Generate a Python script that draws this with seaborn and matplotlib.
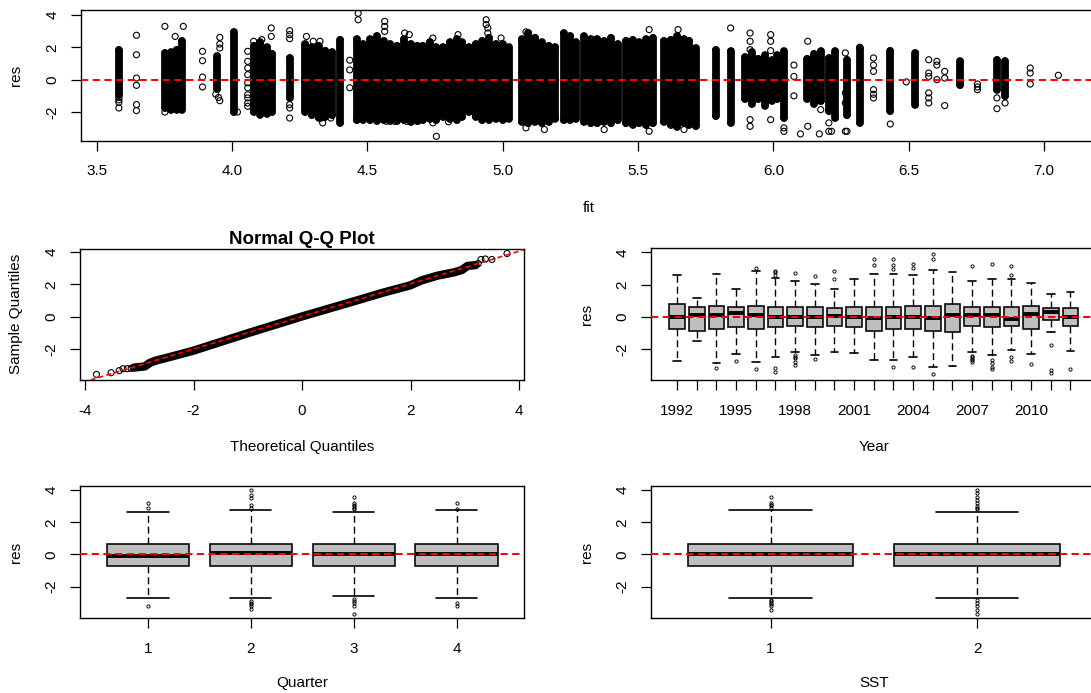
import matplotlib
matplotlib.use("Agg")
import matplotlib.pyplot as plt
import seaborn as sns
import numpy as np
import pandas as pd

# ---------------- data ----------------
# residuals vs fitted: dense columns (fit, low, high) and isolated points
col_fit = [3.582, 3.752, 3.775, 3.795, 3.815, 3.945, 4.006, 4.08, 4.105, 4.13, 4.148,
           4.213, 4.27, 4.295, 4.32, 4.345, 4.37, 4.40, 4.46, 4.485, 4.51, 4.535, 4.56,
           4.585, 4.61, 4.635, 4.66, 4.685, 4.705, 4.73, 4.755, 4.78, 4.805, 4.83, 4.85,
           4.875, 4.90, 4.925, 4.95, 4.975, 5.0, 5.022, 5.07, 5.095, 5.12, 5.145, 5.17,
           5.195, 5.225, 5.25, 5.27, 5.30, 5.325, 5.35, 5.375, 5.40, 5.425, 5.455, 5.48,
           5.505, 5.53, 5.555, 5.595, 5.62, 5.645, 5.67, 5.69, 5.713, 5.787, 5.842, 5.895,
           5.92, 5.945, 5.97, 5.995, 6.015, 6.039, 6.125, 6.15, 6.175, 6.205, 6.229, 6.272,
           6.319, 6.432, 6.525, 6.69, 6.826, 6.856]
col_lo = [-0.95, -1.75, -1.85, -1.85, -1.85, -0.6, -2.0, -2.0, -2.16, -2.1, -2.0,
          -1.13, -2.0, -2.2, -2.35, -2.3, -2.2, -2.67, -2.5, -2.5, -2.5, -2.55, -2.5,
          -2.55, -2.55, -2.5, -2.6, -2.55, -2.5, -2.4, -2.5, -2.3, -2.4, -2.5, -2.3,
          -2.0, -2.3, -2.5, -2.5, -2.4, -2.5, -2.4, -2.6, -2.7, -2.6, -2.7, -2.6,
          -2.4, -2.5, -2.5, -2.4, -2.6, -2.7, -2.7, -2.6, -2.7, -2.5, -2.7, -2.78,
          -2.7, -2.8, -2.7, -2.6, -2.8, -2.9, -2.7, -2.8, -2.88, -2.26, -2.67, -1.2,
          -1.5, -1.2, -1.6, -1.3, -1.2, -2.37, -1.2, -1.5, -1.34, -1.95, -2.37, -2.2,
          -2.67, -1.95, -1.54, -0.35, -0.62, -1.03]
col_hi = [1.85, 1.65, 1.70, 1.85, 2.40, 1.45, 2.94, 2.1, 2.3, 2.0, 1.6,
          1.34, 2.2, 2.0, 2.1, 1.8, 1.7, 2.47, 2.5, 2.2, 2.5, 2.7, 2.4,
          2.2, 2.1, 2.5, 2.2, 2.1, 2.1, 2.3, 2.0, 2.0, 2.3, 2.5, 2.3,
          2.0, 2.2, 2.4, 2.6, 2.2, 2.2, 2.0, 2.5, 2.9, 2.6, 2.3, 2.1,
          2.0, 2.88, 2.7, 2.3, 2.67, 2.5, 2.5, 2.4, 2.6, 2.2, 2.4, 2.47,
          2.3, 2.5, 2.6, 2.4, 2.47, 2.7, 2.5, 2.4, 1.95, 1.85, 1.75, 1.4,
          1.7, 1.3, 1.5, 1.2, 1.5, 1.75, 1.3, 1.6, 1.75, 1.34, 1.75, 1.23,
          1.95, 1.79, 1.65, 1.13, 1.23, 1.13]

pt_fit = [3.647, 3.647, 3.647, 3.647, 3.647, 3.647, 3.582, 3.582, 3.582, 3.582,
          3.752, 3.752, 3.82, 3.79, 3.891, 3.891, 3.891, 3.891, 3.955, 3.955, 3.955,
          3.94, 3.95, 3.955, 4.02, 4.058, 4.058, 4.058, 4.058, 4.058, 4.058, 4.058,
          4.058, 4.058, 4.058, 4.145, 4.145, 4.11, 4.08, 4.213, 4.213, 4.213, 4.213,
          4.213, 4.213, 4.275, 4.30, 4.325, 4.33, 4.365, 4.335, 4.435, 4.435, 4.435,
          4.466, 4.466, 4.564, 4.564, 4.564, 4.638, 4.655, 4.533, 4.57, 4.60, 4.645,
          4.687, 4.742, 4.835, 4.742, 4.755, 4.80, 4.939, 4.939, 4.945, 4.945, 4.994,
          5.086, 5.086, 5.154, 5.375, 5.541, 5.541, 5.648, 5.67, 5.842, 5.914, 5.914,
          5.914, 5.914, 5.914, 5.99, 5.99, 5.99, 5.99, 6.039, 6.039, 6.076, 6.076,
          6.076, 6.1, 6.127, 6.127, 6.17, 6.175, 6.205, 6.205, 6.215, 6.272, 6.266,
          6.266, 6.266, 6.266, 6.319, 6.37, 6.37, 6.37, 6.37, 6.37, 6.37, 6.432,
          6.491, 6.574, 6.574, 6.574, 6.574, 6.574, 6.574, 6.604, 6.604, 6.604, 6.633,
          6.633, 6.633, 6.754, 6.754, 6.754, 6.826, 6.826, 6.856, 6.949, 6.949, 6.949,
          7.053]
pt_res = [2.74, 1.54, 0.1, -0.35, -1.54, -1.91, -1.1, -1.25, -1.4, -1.75,
          3.29, -2.0, 3.29, 2.67, 1.75, 1.17, 0.16, -0.45, 2.61, 2.2, 1.95,
          -0.9, -1.1, -1.3, -2.0, 1.75, 1.13, 0.72, 0.31, -0.2, -0.51, -0.93,
          -1.13, -1.44, -1.65, 3.19, 2.67, 2.47, 2.37, 3.02, 2.78, 2.53, -1.54,
          -1.75, -2.37, 2.67, 2.37, 2.37, -2.37, -2.37, -2.67, 1.2, 0.6, -0.5,
          4.1, 3.7, 3.6, 3.29, 2.98, 2.88, 2.78, 2.37, -2.57, -2.57, -2.57,
          -2.57, 2.57, 2.78, -2.67, -3.5, -2.6, 3.7, 3.4, 3.19, 2.88, 2.57,
          2.95, -2.98, -3.08, -3.08, 3.09, -3.19, 3.09, -3.08, 3.19, 2.88, 2.37,
          1.85, -2.47, -2.88, 2.78, 2.37, 1.79, -2.47, -2.98, -3.19, 0.9, 0.2,
          -1.0, -3.35, 2.37, -2.88, -3.35, -1.85, -2.67, -3.19, -3.19, -3.19, 1.65,
          -0.82, -1.44, -3.19, 2.0, 1.34, 0.9, 0.51, -0.62, -0.9, -1.13, -2.74,
          -0.14, 1.23, 0.41, 0.2, -0.82, -1.13, -1.44, 1.13, 0.9, 0.0, 0.51,
          0.1, -1.6, -0.27, -0.45, -0.62, -1.13, -1.79, -1.44, 0.72, 0.41, -0.27,
          0.27]

# Normal Q-Q: dense band and sparse tail points
qq_band_theo = [-3.1, -2.9, -2.8, -2.7, -2.5, -2.0, -1.0, 0.0, 1.0, 1.5, 2.0, 2.2, 2.5, 2.8, 2.95, 3.05, 3.2]
qq_band_samp = [-3.15, -3.08, -2.85, -2.72, -2.55, -2.1, -1.02, 0.02, 1.0, 1.5, 1.95, 2.25, 2.55, 2.75, 2.9, 3.15, 3.2]
qq_tail_theo = [-3.79, -3.52, -3.37, -3.3, -3.22, -3.15, 3.25, 3.3, 3.38, 3.5, 3.78]
qq_tail_samp = [-3.57, -3.47, -3.34, -3.22, -3.22, -3.2, 3.3, 3.55, 3.58, 3.55, 3.92]
qq_line_intercept = 0.02
qq_line_slope = 1.01

# Boxplots by Year
years = list(range(1992, 2013))
year_q1 = [-0.76, -0.87, -0.76, -0.66, -0.76, -0.66, -0.56, -0.66, -0.56, -0.66, -0.87,
           -0.76, -0.76, -0.87, -0.93, -0.56, -0.66, -0.56, -0.76, -0.21, -0.56]
year_med = [-0.02, 0.14, 0.10, 0.21, 0.14, -0.04, 0.0, -0.04, 0.04, 0.0, -0.10,
            0.0, 0.0, -0.10, 0.14, 0.14, 0.14, -0.14, 0.19, 0.27, 0.0]
year_q3 = [0.78, 0.62, 0.70, 0.62, 0.70, 0.62, 0.62, 0.62, 0.52, 0.62, 0.62,
           0.62, 0.70, 0.70, 0.78, 0.62, 0.62, 0.62, 0.70, 0.52, 0.52]
year_lo = [-2.74, -1.48, -2.89, -2.31, -2.82, -2.47, -2.21, -2.37, -2.21, -2.27, -2.68,
           -2.68, -2.47, -3.13, -3.03, -2.21, -2.37, -2.06, -2.31, -0.97, -2.10]
year_hi = [2.62, 1.18, 2.68, 1.71, 2.82, 2.43, 2.23, 2.06, 1.71, 2.37, 2.68,
           2.68, 2.58, 2.89, 2.78, 2.23, 2.37, 2.37, 2.12, 1.40, 1.51]
year_out = [[], [], [-3.15], [-2.74], [3.03, -3.24], [2.78, 2.82, 2.58, -3.2, -3.4],
            [2.72, -2.37, -2.47, -2.58, -2.78, -2.99], [2.54, -2.62], [2.33, 2.85], [],
            [3.61, 3.2], [3.61, 3.2, 2.99, -3.09], [3.26, 3.03, -3.09], [3.92, 3.61, -3.57],
            [], [3.15, -2.41, -2.5, -2.6, -2.7, -2.8], [3.26, -2.68, -2.89, -3.09, -3.24],
            [2.62, 3.15, -2.47, -2.74], [-2.95], [-1.75, -3.30, -3.5], [-3.24]]

# Boxplots by Quarter
quarters = ["1", "2", "3", "4"]
qtr_q1 = [-0.74, -0.74, -0.74, -0.74]
qtr_med = [-0.08, 0.12, 0.0, 0.0]
qtr_q3 = [0.66, 0.66, 0.66, 0.66]
qtr_lo = [-2.70, -2.70, -2.60, -2.70]
qtr_hi = [2.66, 2.76, 2.66, 2.76]
qtr_out = [[3.22, 2.87, -3.18],
           [4.0, 3.69, 3.48, 3.07, 2.87, -2.91, -3.0, -3.1, -3.2, -3.4],
           [3.59, 3.18, 3.1, 3.0, 2.9, 2.8, -2.76, -2.9, -3.0, -3.2, -3.67],
           [3.18, 2.82, -3.01, -3.2]]

# Boxplots by SST
sst = ["1", "2"]
sst_q1 = [-0.74, -0.74]
sst_med = [0.0, 0.0]
sst_q3 = [0.66, 0.66]
sst_lo = [-2.70, -2.70]
sst_hi = [2.76, 2.66]
sst_out = [[3.59, 3.22, 3.1, 3.07, 2.87, -2.8, -2.9, -3.0, -3.1, -3.2, -3.46],
           [4.0, 3.8, 3.59, 3.38, 3.18, 3.0, 2.9, 2.8, -2.8, -3.0, -3.2, -3.42, -3.67]]

# ---------------- style ----------------
sns.set_theme(style="white")
plt.rcParams["font.family"] = ["Liberation Sans", "DejaVu Sans"]
plt.rcParams["axes.edgecolor"] = "black"
plt.rcParams["text.color"] = "black"
plt.rcParams["xtick.color"] = "black"
plt.rcParams["ytick.color"] = "black"

W, H = 1091, 693
fig = plt.figure(figsize=(W / 100, H / 100), dpi=100)
fig.patch.set_facecolor("white")


def rect(l, t, r, b):
    return [l / W, 1 - b / H, (r - l) / W, (b - t) / H]


FS = 11
RED_LS = (0, (3.6, 2.2))


def style_axes(ax):
    for s in ax.spines.values():
        s.set_visible(True)
        s.set_linewidth(1.0)
        s.set_color("black")
    ax.tick_params(axis="both", which="both", direction="out", length=7.5, width=0.9,
                   labelsize=FS, bottom=True, left=True, top=False, right=False)
    ax.tick_params(axis="x", pad=9.5)
    ax.tick_params(axis="y", pad=8.0, labelrotation=90)
    for lab in ax.get_yticklabels():
        lab.set_va("center")
    ax.grid(False)
    ax.set_facecolor("white")
    ax.set_xlabel("")
    ax.set_ylabel("")


def ftext(x, y, s, size=FS, **kw):
    fig.text(x / W, 1 - y / H, s, ha="center", va="center", fontsize=size, **kw)


# ---------- top: res vs fit ----------
ax1 = fig.add_axes(rect(80.7, 9.7, 1097.9, 140.7))
cols = ax1.vlines(col_fit, col_lo, col_hi, colors="black", linewidth=5.6)
cols.set_capstyle("round")
ends = pd.DataFrame({"fit": col_fit + col_fit, "res": col_lo + col_hi})
sns.scatterplot(data=ends, x="fit", y="res", ax=ax1, marker="o", s=19,
                facecolor="none", edgecolor="black", linewidth=0.8, legend=False)
pts = pd.DataFrame({"fit": pt_fit, "res": pt_res})
sns.scatterplot(data=pts, x="fit", y="res", ax=ax1, marker="o", s=19,
                facecolor="none", edgecolor="black", linewidth=0.8, legend=False)
ax1.axhline(0, color="red", lw=1.45, ls=RED_LS, zorder=5)
ax1.set_xlim(3.441, 7.199)
ax1.set_ylim(-3.77, 4.32)
ax1.set_xticks([3.5, 4.0, 4.5, 5.0, 5.5, 6.0, 6.5, 7.0])
ax1.set_xticklabels(["3.5", "4.0", "4.5", "5.0", "5.5", "6.0", "6.5", "7.0"])
ax1.set_yticks([-2, 0, 2, 4])
ax1.set_yticklabels(["-2", "0", "2", "4"])
style_axes(ax1)
ftext(16, 75, "res", rotation=90)
ftext(589, 208, "fit")

# ---------- Q-Q ----------
ax2 = fig.add_axes(rect(80.2, 249, 524.4, 380))
band = pd.DataFrame({"theo": qq_band_theo, "samp": qq_band_samp})
sns.lineplot(data=band, x="theo", y="samp", ax=ax2, color="black", lw=6.0,
             sort=False, estimator=None, solid_capstyle="round")
tail = pd.DataFrame({"theo": qq_tail_theo, "samp": qq_tail_samp})
sns.scatterplot(data=tail, x="theo", y="samp", ax=ax2, marker="o", s=19,
                facecolor="none", edgecolor="black", linewidth=0.8, legend=False)
ax2.axline((0, qq_line_intercept), slope=qq_line_slope, color="red", lw=1.2,
           ls=(0, (3.0, 2.0)), zorder=5)
ax2.set_xlim(-4.09, 4.1)
ax2.set_ylim(-3.92, 4.2)
ax2.set_xticks([-4, -2, 0, 2, 4])
ax2.set_xticklabels(["-4", "-2", "0", "2", "4"])
ax2.set_yticks([-2, 0, 2, 4])
ax2.set_yticklabels(["-2", "0", "2", "4"])
style_axes(ax2)
ftext(302, 239, "Normal Q-Q Plot", size=13.5, fontweight="bold")
ftext(16, 314, "Sample Quantiles", rotation=90)
ftext(302, 447, "Theoretical Quantiles")


# ---------- boxplot helper ----------
def draw_boxes(ax, labels, q1, med, q3, lo, hi, out):
    stats = []
    for i in range(len(labels)):
        stats.append(dict(med=med[i], q1=q1[i], q3=q3[i], whislo=lo[i], whishi=hi[i],
                          fliers=np.array(out[i], dtype=float), label=labels[i]))
    pos = list(range(1, len(labels) + 1))
    ax.bxp(stats, positions=pos, widths=0.8, capwidths=0.4, patch_artist=True,
           showfliers=True,
           boxprops=dict(facecolor="#BEBEBE", edgecolor="black", linewidth=1.15),
           medianprops=dict(color="black", linewidth=2.8, solid_capstyle="butt"),
           whiskerprops=dict(color="black", linewidth=1.0, linestyle=(0, (5, 2.8))),
           capprops=dict(color="black", linewidth=1.2),
           flierprops=dict(marker="o", markersize=2.3, markerfacecolor="none",
                           markeredgecolor="black", markeredgewidth=0.65, linestyle="none"))
    ax.axhline(0, color="red", lw=1.45, ls=RED_LS, zorder=5)
    return pos


# ---------- Year ----------
ax3 = fig.add_axes(rect(650.8, 248, 1096.8, 380))
pos = draw_boxes(ax3, [str(y) for y in years], year_q1, year_med, year_q3,
                 year_lo, year_hi, year_out)
ax3.set_xlim(-0.34, 22.34)
ax3.set_ylim(-3.92, 4.27)
ax3.set_xticks(pos)
ax3.set_xticklabels([str(y) if (y - 1992) % 3 == 0 else "" for y in years])
ax3.set_yticks([-2, 0, 2, 4])
ax3.set_yticklabels(["-2", "0", "2", "4"])
style_axes(ax3)
ftext(587, 314, "res", rotation=90)
ftext(874, 447, "Year")

# ---------- Quarter ----------
ax4 = fig.add_axes(rect(80.2, 486, 524.4, 618))
pos = draw_boxes(ax4, quarters, qtr_q1, qtr_med, qtr_q3, qtr_lo, qtr_hi, qtr_out)
ax4.set_xlim(0.34, 4.66)
ax4.set_ylim(-3.94, 4.25)
ax4.set_xticks(pos)
ax4.set_xticklabels(quarters)
ax4.set_yticks([-2, 0, 2, 4])
ax4.set_yticklabels(["-2", "0", "2", "4"])
style_axes(ax4)
ftext(16, 552, "res", rotation=90)
ftext(302, 683, "Quarter")

# ---------- SST ----------
ax5 = fig.add_axes(rect(650.8, 486, 1096.8, 618))
pos = draw_boxes(ax5, sst, sst_q1, sst_med, sst_q3, sst_lo, sst_hi, sst_out)
ax5.set_xlim(0.42, 2.58)
ax5.set_ylim(-3.94, 4.25)
ax5.set_xticks(pos)
ax5.set_xticklabels(sst)
ax5.set_yticks([-2, 0, 2, 4])
ax5.set_yticklabels(["-2", "0", "2", "4"])
style_axes(ax5)
ftext(587, 552, "res", rotation=90)
ftext(874, 683, "SST")

fig.savefig("out.png", dpi=100, facecolor="white")
